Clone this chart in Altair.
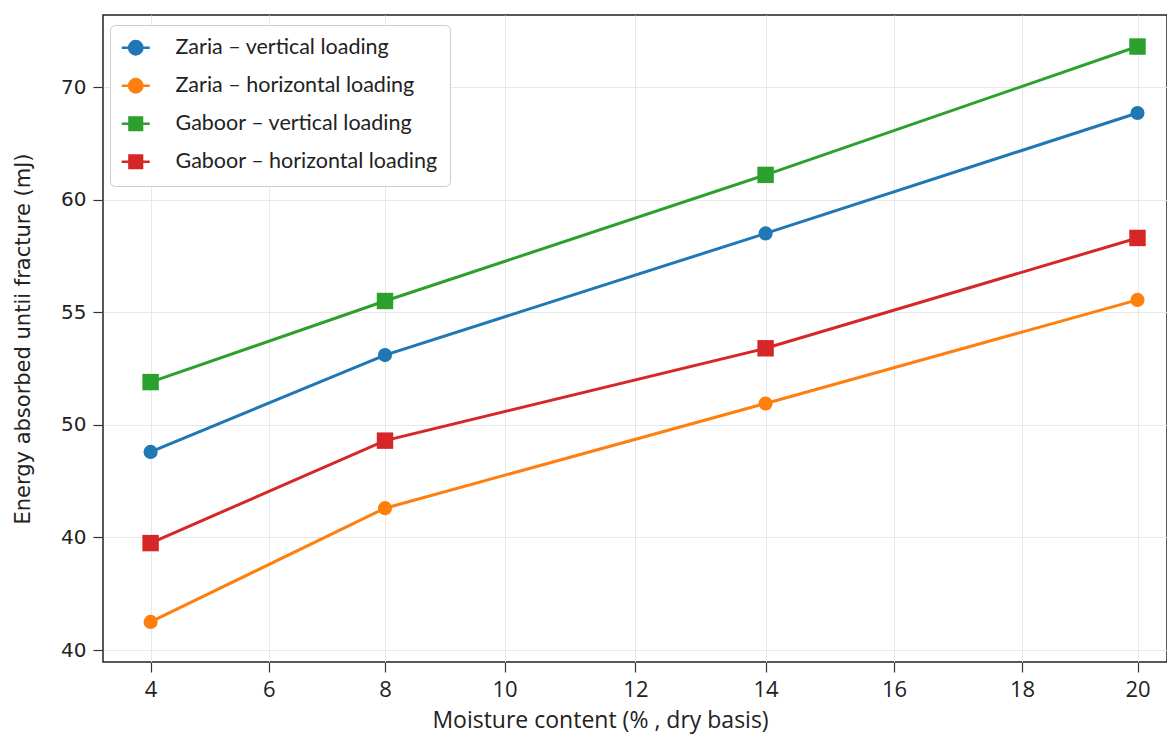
import altair as alt
import pandas as pd

moisture = [4, 8, 14, 20]
series_names = [
    "Zaria – vertical loading",
    "Zaria – horizontal loading",
    "Gaboor – vertical loading",
    "Gaboor – horizontal loading",
]
zaria_vertical = [48.8, 53.1, 58.5, 63.85]
zaria_horizontal = [41.25, 46.3, 50.95, 55.55]
gaboor_vertical = [51.9, 55.5, 61.1, 66.8]
gaboor_horizontal = [44.75, 49.3, 53.4, 58.3]
colors = ["#1f77b4", "#ff7f0e", "#2ca02c", "#d62728"]
x_ticks = [4, 6, 8, 10, 12, 14, 16, 18, 20]
y_tick_pos = [40, 45, 50, 55, 60, 65]
y_tick_labels = ["40", "40", "50", "55", "60", "70"]

# the reference's x axis is not evenly spaced: piecewise scale (domain -> pixel)
x_scale_domain = [3.19, 4, 6, 8, 10, 12, 14, 16, 18, 20, 20.51]
x_scale_range = [0, 47.6, 165.7, 282, 401.6, 532.4, 662.6, 791, 919, 1034.5, 1064]

rows = []
for name, vals in zip(series_names, [zaria_vertical, zaria_horizontal, gaboor_vertical, gaboor_horizontal]):
    for m, v in zip(moisture, vals):
        rows.append({"series": name, "moisture": m, "energy": v})
df = pd.DataFrame(rows)

circle_line = "M-2,0H2M-0.95,0A0.95,0.95 0 1,0 0.95,0A0.95,0.95 0 1,0 -0.95,0Z"
square_line = "M-2,0H2M-0.9,-0.9H0.9V0.9H-0.9Z"

cscale = alt.Scale(domain=series_names, range=colors)
sscale = alt.Scale(domain=series_names, range=[circle_line, circle_line, square_line, square_line])

label_expr = "[" + ",".join("'" + s + "'" for s in y_tick_labels) + "][indexof([" + ",".join(str(v) for v in y_tick_pos) + "], datum.value)]"

x_enc = alt.X(
    "moisture:Q",
    scale=alt.Scale(domain=x_scale_domain, range=x_scale_range, nice=False, zero=False),
    axis=alt.Axis(values=x_ticks, title="Moisture content (% , dry basis)", format="d",
                  titleX=497, titleAnchor="start", titleAlign="center"),
)
y_enc = alt.Y(
    "energy:Q",
    scale=alt.Scale(domain=[39.47, 68.2], nice=False, zero=False),
    axis=alt.Axis(values=y_tick_pos, labelExpr=label_expr, title="Energy absorbed untii fracture (mJ)"),
)

leg = alt.Legend(
    title=None,
    orient="none",
    legendX=7,
    legendY=10,
    symbolSize=196,
    symbolStrokeWidth=2.5,
    symbolOpacity=1,
    symbolOffset=3,
    labelFont="Lato",
    labelFontSize=21.5,
    labelLimit=0,
    labelColor="#222222",
    labelOffset=29,
    rowPadding=14,
    padding=12,
    fillColor="white",
    strokeColor="#cccccc",
    cornerRadius=5,
)

base = alt.Chart(df)

# Legend layer: carries the line+marker glyphs for the legend only (invisible marks)
legend_layer = base.mark_point(filled=True, opacity=0, strokeWidth=2.5).encode(
    x=x_enc, y=y_enc,
    color=alt.Color("series:N", scale=cscale, legend=leg),
    stroke=alt.Stroke("series:N", scale=cscale, legend=leg),
    shape=alt.Shape("series:N", scale=sscale, legend=leg),
)

lines = base.mark_line(strokeWidth=3).encode(
    x=x_enc, y=y_enc,
    color=alt.Color("series:N", scale=cscale, legend=leg),
)
circles = base.transform_filter(
    alt.FieldOneOfPredicate(field="series", oneOf=series_names[:2])
).mark_point(filled=True, shape="circle", size=200, opacity=1).encode(
    x=x_enc, y=y_enc,
    color=alt.Color("series:N", scale=cscale, legend=leg),
)
squares = base.transform_filter(
    alt.FieldOneOfPredicate(field="series", oneOf=series_names[2:])
).mark_point(filled=True, shape="square", size=270, opacity=1).encode(
    x=x_enc, y=y_enc,
    color=alt.Color("series:N", scale=cscale, legend=leg),
)

chart = alt.layer(legend_layer, lines, circles, squares).properties(
    width=1064,
    height=647,
    autosize=alt.AutoSizeParams(type="none"),
    padding={"left": 95, "top": 7, "right": 0, "bottom": 74},
).configure_view(
    stroke="#222222", strokeWidth=1.5
).configure_axis(
    grid=True,
    gridColor="#e8e8e8",
    gridWidth=1,
    domain=False,
    tickColor="#333333",
    tickSize=10,
    tickWidth=1.2,
    labelColor="#222222",
    titleColor="#222222",
    titleFontWeight="normal",
).configure_axisY(
    labelFont="DejaVu Sans",
    labelFontSize=20,
    labelPadding=7,
    titleFont="DejaVu Sans",
    titleFontSize=21,
    titlePadding=27,
).configure_axisX(
    labelFont="Liberation Sans Narrow, Open Sans",
    labelFontSize=22,
    labelPadding=7,
    titleFont="Liberation Sans Narrow, Open Sans",
    titleFontSize=23,
    titlePadding=9,
)

chart.save("out.html", embed_options={"renderer": "svg", "actions": False})
